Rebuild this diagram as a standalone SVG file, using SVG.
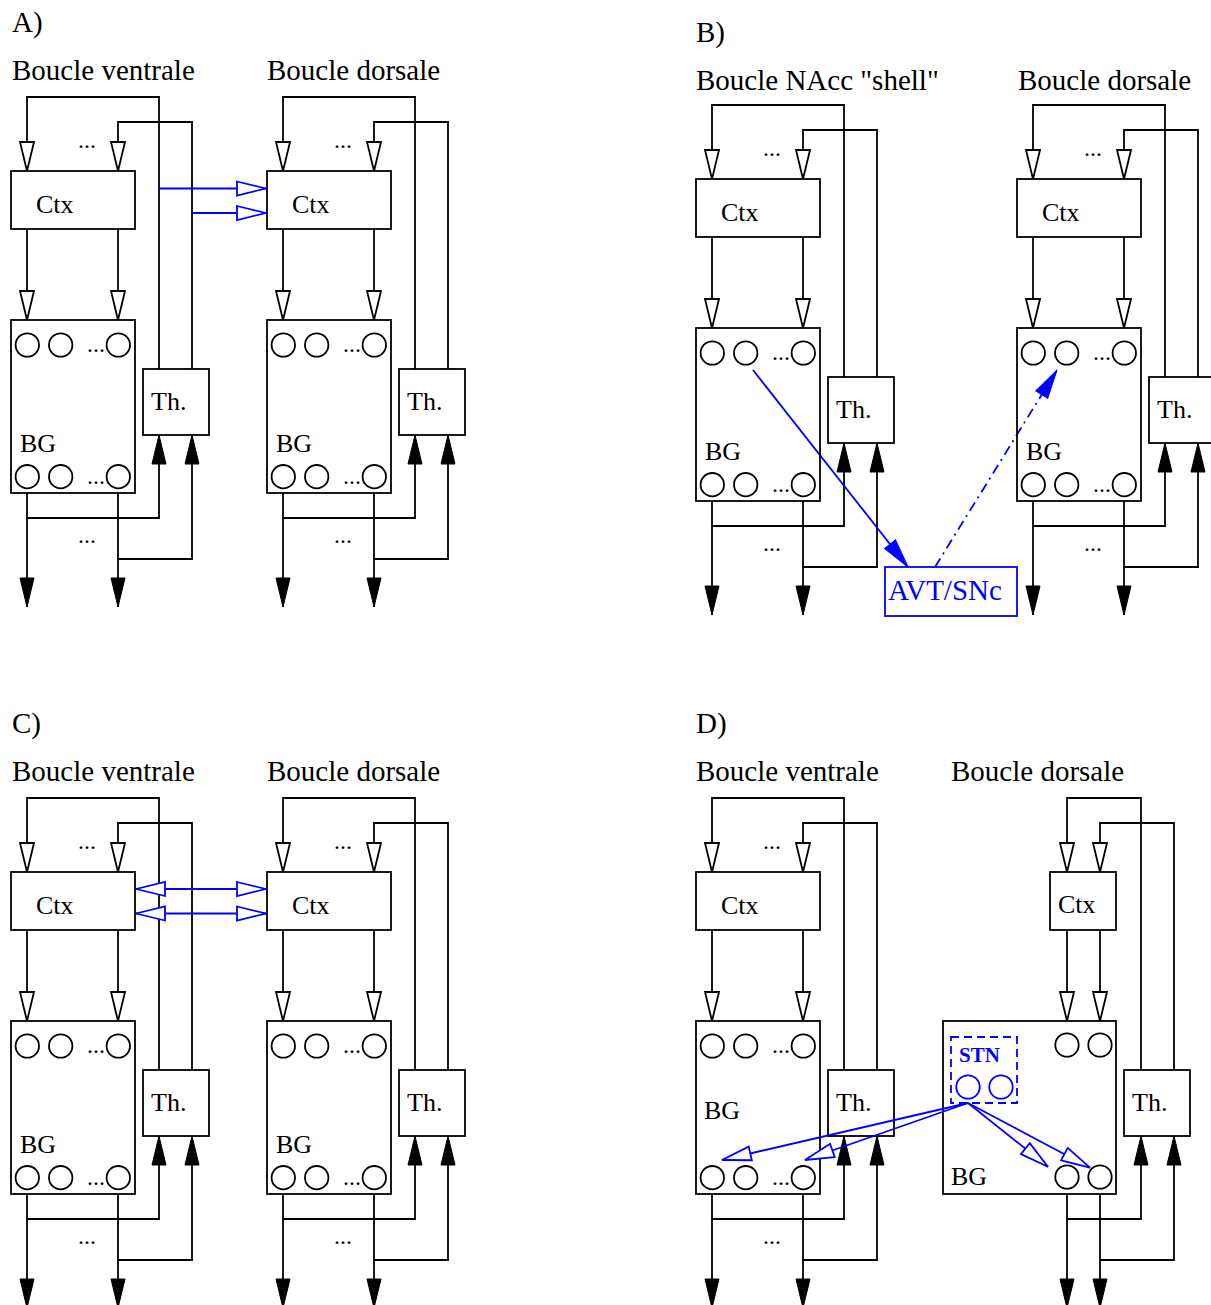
<svg xmlns="http://www.w3.org/2000/svg" width="1211" height="1305" viewBox="0 0 1211 1305">
<defs>
<style>
.ln{fill:none;stroke:#000;stroke-width:1.8}
.oa{marker-end:url(#oK)}
.fa{marker-end:url(#fK)}
.box{fill:none;stroke:#000;stroke-width:1.8}
.c{fill:none;stroke:#000;stroke-width:1.8}
.t{font-family:"Liberation Serif","Times New Roman",serif;font-size:26px;fill:#000}
.h{font-family:"Liberation Serif","Times New Roman",serif;font-size:29px;fill:#000}
.d{font-family:"Liberation Serif","Times New Roman",serif;font-size:24px;fill:#000}
.bl{fill:none;stroke:#00f;stroke-width:1.8}
.ob{marker-end:url(#oB)}
.fb{marker-end:url(#fB)}
.bi{marker-start:url(#oBs);marker-end:url(#oB)}
.bc{fill:none;stroke:#00f;stroke-width:1.8}
</style>
<marker id="oK" viewBox="-2 -10 34 20" refX="29" refY="0" markerWidth="34" markerHeight="20" markerUnits="userSpaceOnUse" orient="auto"><path d="M0,-7L29,0L0,7Z" fill="#fff" stroke="#000" stroke-width="1.8"/></marker>
<marker id="fK" viewBox="-2 -10 34 20" refX="29" refY="0" markerWidth="34" markerHeight="20" markerUnits="userSpaceOnUse" orient="auto"><path d="M0,-7L29,0L0,7Z" fill="#000" stroke="#000" stroke-width="1"/></marker>
<marker id="oB" viewBox="-2 -10 34 20" refX="29" refY="0" markerWidth="34" markerHeight="20" markerUnits="userSpaceOnUse" orient="auto"><path d="M0,-7L29,0L0,7Z" fill="#fff" stroke="#00f" stroke-width="1.8"/></marker>
<marker id="oBs" viewBox="-2 -10 34 20" refX="29" refY="0" markerWidth="34" markerHeight="20" markerUnits="userSpaceOnUse" orient="auto-start-reverse"><path d="M0,-7L29,0L0,7Z" fill="#fff" stroke="#00f" stroke-width="1.8"/></marker>
<marker id="fB" viewBox="-2 -10 34 20" refX="29" refY="0" markerWidth="34" markerHeight="20" markerUnits="userSpaceOnUse" orient="auto"><path d="M0,-7L29,0L0,7Z" fill="#00f" stroke="#00f" stroke-width="1"/></marker>
</defs>
<rect width="1211" height="1305" fill="#fff"/>

<g id="labels">
<text class="h" x="12" y="32">A)</text>
<text class="h" x="12" y="80">Boucle ventrale</text>
<text class="h" x="267" y="80">Boucle dorsale</text>
<text class="h" x="696" y="42">B)</text>
<text class="h" x="696" y="90">Boucle NAcc "shell"</text>
<text class="h" x="1018" y="90">Boucle dorsale</text>
<text class="h" x="12" y="733">C)</text>
<text class="h" x="12" y="781">Boucle ventrale</text>
<text class="h" x="267" y="781">Boucle dorsale</text>
<text class="h" x="696" y="733">D)</text>
<text class="h" x="696" y="781">Boucle ventrale</text>
<text class="h" x="951" y="781">Boucle dorsale</text>
</g>

<g id="connectors">
<g id="A-v-conn">
<path class="ln oa" d="M159,369V97H27V171"/><path class="ln oa" d="M192,369V122H118V171"/>
<path class="ln oa" d="M27,229V320"/><path class="ln oa" d="M118,229V320"/>
<path class="ln fa" d="M27,493V518H159V435"/><path class="ln fa" d="M118,493V559H192V435"/>
<path class="ln fa" d="M27,518V607"/><path class="ln fa" d="M118,559V607"/>
</g>
<g id="A-d-conn" transform="translate(256,0)">
<path class="ln oa" d="M159,369V97H27V171"/><path class="ln oa" d="M192,369V122H118V171"/>
<path class="ln oa" d="M27,229V320"/><path class="ln oa" d="M118,229V320"/>
<path class="ln fa" d="M27,493V518H159V435"/><path class="ln fa" d="M118,493V559H192V435"/>
<path class="ln fa" d="M27,518V607"/><path class="ln fa" d="M118,559V607"/>
</g>
<g id="A-blue">
<path class="bl ob" d="M159,188.5H266"/><path class="bl ob" d="M192,213H266"/>
</g>
<g id="B-n-conn" transform="translate(685,8)">
<path class="ln oa" d="M159,369V97H27V171"/><path class="ln oa" d="M192,369V122H118V171"/>
<path class="ln oa" d="M27,229V320"/><path class="ln oa" d="M118,229V320"/>
<path class="ln fa" d="M27,493V518H159V435"/><path class="ln fa" d="M118,493V559H192V435"/>
<path class="ln fa" d="M27,518V607"/><path class="ln fa" d="M118,559V607"/>
</g>
<g id="B-d-conn" transform="translate(1006,8)">
<path class="ln oa" d="M159,369V97H27V171"/><path class="ln oa" d="M192,369V122H118V171"/>
<path class="ln oa" d="M27,229V320"/><path class="ln oa" d="M118,229V320"/>
<path class="ln fa" d="M27,493V518H159V435"/><path class="ln fa" d="M118,493V559H192V435"/>
<path class="ln fa" d="M27,518V607"/><path class="ln fa" d="M118,559V607"/>
</g>
<g id="B-blue">
<path class="bl fb" d="M753,370L908,567"/>
<path class="bl fb" stroke-dasharray="10,5,2,5" d="M935,567L1057,370"/>
</g>
<g id="C-v-conn" transform="translate(0,701)">
<path class="ln oa" d="M159,369V97H27V171"/><path class="ln oa" d="M192,369V122H118V171"/>
<path class="ln oa" d="M27,229V320"/><path class="ln oa" d="M118,229V320"/>
<path class="ln fa" d="M27,493V518H159V435"/><path class="ln fa" d="M118,493V559H192V435"/>
<path class="ln fa" d="M27,518V607"/><path class="ln fa" d="M118,559V607"/>
</g>
<g id="C-d-conn" transform="translate(256,701)">
<path class="ln oa" d="M159,369V97H27V171"/><path class="ln oa" d="M192,369V122H118V171"/>
<path class="ln oa" d="M27,229V320"/><path class="ln oa" d="M118,229V320"/>
<path class="ln fa" d="M27,493V518H159V435"/><path class="ln fa" d="M118,493V559H192V435"/>
<path class="ln fa" d="M27,518V607"/><path class="ln fa" d="M118,559V607"/>
</g>
<g id="C-blue">
<path class="bl bi" d="M136,889H266"/><path class="bl bi" d="M136,913.5H266"/>
</g>
<g id="D-v-conn" transform="translate(685,701)">
<path class="ln oa" d="M159,369V97H27V171"/><path class="ln oa" d="M192,369V122H118V171"/>
<path class="ln oa" d="M27,229V320"/><path class="ln oa" d="M118,229V320"/>
<path class="ln fa" d="M27,493V518H159V435"/><path class="ln fa" d="M118,493V559H192V435"/>
<path class="ln fa" d="M27,518V607"/><path class="ln fa" d="M118,559V607"/>
</g>
<g id="D-d-conn">
<path class="ln oa" d="M1141,1070V798H1067V872"/><path class="ln oa" d="M1174,1070V823H1100V872"/>
<path class="ln oa" d="M1067,930V1021"/><path class="ln oa" d="M1100,930V1021"/>
<path class="ln fa" d="M1067,1194V1219H1141V1136"/><path class="ln fa" d="M1100,1194V1260H1174V1136"/>
<path class="ln fa" d="M1067,1219V1308"/><path class="ln fa" d="M1100,1260V1308"/>
</g>
</g>

<g id="A-v-nodes">
<g id="A-v-ctx"><rect class="box" x="11" y="171" width="124" height="58"/><text class="t" x="36" y="213">Ctx</text></g>
<g id="A-v-bg"><rect class="box" x="11" y="320" width="124" height="173"/><circle class="c" cx="27.3" cy="345" r="11.7"/><circle class="c" cx="60.7" cy="345" r="11.7"/><circle class="c" cx="118.3" cy="345" r="11.7"/><circle class="c" cx="27.3" cy="476.7" r="11.7"/><circle class="c" cx="60.7" cy="476.7" r="11.7"/><circle class="c" cx="118.3" cy="476.7" r="11.7"/><text class="d" x="87" y="352">...</text><text class="d" x="87" y="484">...</text><text class="t" x="20" y="452">BG</text></g>
<g id="A-v-th"><rect class="box" x="143" y="369" width="66" height="66"/><text class="t" x="151" y="410">Th.</text></g>
<text class="d" x="78" y="148">...</text><text class="d" x="78" y="543">...</text>
</g>
<g id="A-d-nodes" transform="translate(256,0)">
<g id="A-d-ctx"><rect class="box" x="11" y="171" width="124" height="58"/><text class="t" x="36" y="213">Ctx</text></g>
<g id="A-d-bg"><rect class="box" x="11" y="320" width="124" height="173"/><circle class="c" cx="27.3" cy="345" r="11.7"/><circle class="c" cx="60.7" cy="345" r="11.7"/><circle class="c" cx="118.3" cy="345" r="11.7"/><circle class="c" cx="27.3" cy="476.7" r="11.7"/><circle class="c" cx="60.7" cy="476.7" r="11.7"/><circle class="c" cx="118.3" cy="476.7" r="11.7"/><text class="d" x="87" y="352">...</text><text class="d" x="87" y="484">...</text><text class="t" x="20" y="452">BG</text></g>
<g id="A-d-th"><rect class="box" x="143" y="369" width="66" height="66"/><text class="t" x="151" y="410">Th.</text></g>
<text class="d" x="78" y="148">...</text><text class="d" x="78" y="543">...</text>
</g>

<g id="B-n-nodes" transform="translate(685,8)">
<g id="B-n-ctx"><rect class="box" x="11" y="171" width="124" height="58"/><text class="t" x="36" y="213">Ctx</text></g>
<g id="B-n-bg"><rect class="box" x="11" y="320" width="124" height="173"/><circle class="c" cx="27.3" cy="345" r="11.7"/><circle class="c" cx="60.7" cy="345" r="11.7"/><circle class="c" cx="118.3" cy="345" r="11.7"/><circle class="c" cx="27.3" cy="476.7" r="11.7"/><circle class="c" cx="60.7" cy="476.7" r="11.7"/><circle class="c" cx="118.3" cy="476.7" r="11.7"/><text class="d" x="87" y="352">...</text><text class="d" x="87" y="484">...</text><text class="t" x="20" y="452">BG</text></g>
<g id="B-n-th"><rect class="box" x="143" y="369" width="66" height="66"/><text class="t" x="151" y="410">Th.</text></g>
<text class="d" x="78" y="148">...</text><text class="d" x="78" y="543">...</text>
</g>
<g id="B-d-nodes" transform="translate(1006,8)">
<g id="B-d-ctx"><rect class="box" x="11" y="171" width="124" height="58"/><text class="t" x="36" y="213">Ctx</text></g>
<g id="B-d-bg"><rect class="box" x="11" y="320" width="124" height="173"/><circle class="c" cx="27.3" cy="345" r="11.7"/><circle class="c" cx="60.7" cy="345" r="11.7"/><circle class="c" cx="118.3" cy="345" r="11.7"/><circle class="c" cx="27.3" cy="476.7" r="11.7"/><circle class="c" cx="60.7" cy="476.7" r="11.7"/><circle class="c" cx="118.3" cy="476.7" r="11.7"/><text class="d" x="87" y="352">...</text><text class="d" x="87" y="484">...</text><text class="t" x="20" y="452">BG</text></g>
<g id="B-d-th"><rect class="box" x="143" y="369" width="66" height="66"/><text class="t" x="151" y="410">Th.</text></g>
<text class="d" x="78" y="148">...</text><text class="d" x="78" y="543">...</text>
</g>
<g id="B-avt"><rect x="885" y="567" width="132" height="49" fill="none" stroke="#00f" stroke-width="1.8"/><text class="h" x="888" y="600" fill="#00f" style="fill:#00f">AVT/SNc</text></g>

<g id="C-v-nodes" transform="translate(0,701)">
<g id="C-v-ctx"><rect class="box" x="11" y="171" width="124" height="58"/><text class="t" x="36" y="213">Ctx</text></g>
<g id="C-v-bg"><rect class="box" x="11" y="320" width="124" height="173"/><circle class="c" cx="27.3" cy="345" r="11.7"/><circle class="c" cx="60.7" cy="345" r="11.7"/><circle class="c" cx="118.3" cy="345" r="11.7"/><circle class="c" cx="27.3" cy="476.7" r="11.7"/><circle class="c" cx="60.7" cy="476.7" r="11.7"/><circle class="c" cx="118.3" cy="476.7" r="11.7"/><text class="d" x="87" y="352">...</text><text class="d" x="87" y="484">...</text><text class="t" x="20" y="452">BG</text></g>
<g id="C-v-th"><rect class="box" x="143" y="369" width="66" height="66"/><text class="t" x="151" y="410">Th.</text></g>
<text class="d" x="78" y="148">...</text><text class="d" x="78" y="543">...</text>
</g>
<g id="C-d-nodes" transform="translate(256,701)">
<g id="C-d-ctx"><rect class="box" x="11" y="171" width="124" height="58"/><text class="t" x="36" y="213">Ctx</text></g>
<g id="C-d-bg"><rect class="box" x="11" y="320" width="124" height="173"/><circle class="c" cx="27.3" cy="345" r="11.7"/><circle class="c" cx="60.7" cy="345" r="11.7"/><circle class="c" cx="118.3" cy="345" r="11.7"/><circle class="c" cx="27.3" cy="476.7" r="11.7"/><circle class="c" cx="60.7" cy="476.7" r="11.7"/><circle class="c" cx="118.3" cy="476.7" r="11.7"/><text class="d" x="87" y="352">...</text><text class="d" x="87" y="484">...</text><text class="t" x="20" y="452">BG</text></g>
<g id="C-d-th"><rect class="box" x="143" y="369" width="66" height="66"/><text class="t" x="151" y="410">Th.</text></g>
<text class="d" x="78" y="148">...</text><text class="d" x="78" y="543">...</text>
</g>

<g id="D-v-nodes" transform="translate(685,701)">
<g id="D-v-ctx"><rect class="box" x="11" y="171" width="124" height="58"/><text class="t" x="36" y="213">Ctx</text></g>
<g id="D-v-bg"><rect class="box" x="11" y="320" width="124" height="173"/><circle class="c" cx="27.3" cy="345" r="11.7"/><circle class="c" cx="60.7" cy="345" r="11.7"/><circle class="c" cx="118.3" cy="345" r="11.7"/><circle class="c" cx="27.3" cy="476.7" r="11.7"/><circle class="c" cx="60.7" cy="476.7" r="11.7"/><circle class="c" cx="118.3" cy="476.7" r="11.7"/><text class="d" x="87" y="352">...</text><text class="d" x="87" y="484">...</text><text class="t" x="19" y="418">BG</text></g>
<g id="D-v-th"><rect class="box" x="143" y="369" width="66" height="66"/><text class="t" x="151" y="410">Th.</text></g>
<text class="d" x="78" y="148">...</text><text class="d" x="78" y="543">...</text>
</g>
<g id="D-d-nodes">
<g id="D-d-ctx"><rect class="box" x="1050" y="872" width="66" height="58"/><text class="t" x="1058" y="913">Ctx</text></g>
<g id="D-d-bg"><rect class="box" x="943" y="1021" width="173" height="173"/><circle class="c" cx="1067" cy="1045" r="11.7"/><circle class="c" cx="1100" cy="1045" r="11.7"/><circle class="c" cx="1067" cy="1177" r="11.7"/><circle class="c" cx="1100" cy="1177" r="11.7"/><text class="t" x="951" y="1185">BG</text></g>
<g id="D-d-stn"><rect x="951" y="1037" width="66" height="66" fill="none" stroke="#00f" stroke-width="1.8" stroke-dasharray="8,5"/><text x="959" y="1062" style="font-family:'Liberation Serif','Times New Roman',serif;font-size:21px;font-weight:bold;fill:#00f">STN</text><circle class="bc" cx="968" cy="1087" r="11.7"/><circle class="bc" cx="1001" cy="1087" r="11.7"/></g>
<g id="D-d-th"><rect class="box" x="1124" y="1070" width="66" height="66"/><text class="t" x="1132" y="1111">Th.</text></g>
</g>
<g id="D-blue">
<path class="bl ob" d="M968,1103L1048,1166.7"/>
<path class="bl ob" d="M968,1103L1090,1167.7"/>
<path class="bl ob" d="M968,1103L722,1160"/>
<path class="bl ob" d="M968,1103L805,1160"/>
</g>
</svg>
